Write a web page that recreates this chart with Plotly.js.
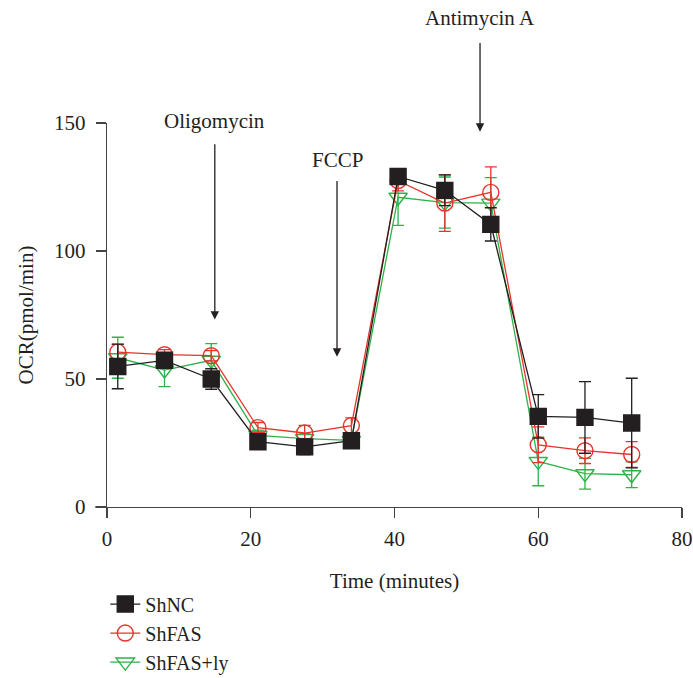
<!DOCTYPE html>
<html>
<head>
<meta charset="utf-8">
<script src="https://cdn.plot.ly/plotly-3.0.1.min.js"></script>
<style>html,body{margin:0;padding:0;background:#fff;}#chart{width:693px;height:678px;}</style>
</head>
<body>
<div id="chart"></div>
<script>
var times = [1.5, 8.0, 14.5, 21.0, 27.5, 34.0, 40.5, 47.0, 53.4, 60.0, 66.5, 73.0];
var shnc = [54.9, 57.3, 50.0, 25.5, 23.5, 25.9, 129.1, 123.7, 110.4, 35.4, 35.0, 32.8];
var shncErr = [8.7, 2.0, 4.0, 2.0, 3.0, 3.0, 3.0, 6.0, 6.5, 8.5, 14.0, 17.5];
var shfas = [60.5, 59.5, 59.1, 31.0, 28.9, 31.8, 127.5, 118.7, 122.9, 24.3, 22.0, 20.5];
var shfasErr = [3.0, 2.0, 2.0, 2.0, 3.0, 3.0, 4.0, 11.0, 10.0, 7.0, 5.0, 5.0];
var shfasly = [58.3, 53.5, 57.3, 28.0, 26.7, 26.0, 121.0, 118.9, 118.7, 17.8, 13.0, 12.6];
var shfaslyErr = [8.0, 6.5, 6.5, 2.0, 2.0, 3.0, 11.0, 10.0, 10.0, 9.5, 6.0, 5.0];
var seriesNames = ["ShNC", "ShFAS", "ShFAS+ly"];
var xTicks = [0, 20, 40, 60, 80];
var yTicks = [0, 50, 100, 150];

var black = "#231f20", red = "#e8332c", green = "#2fb24a";
var font = "Liberation Serif, Times New Roman, serif";

function tr(name, y, err, color, symbol, size) {
  return {
    x: times, y: y, name: name, type: "scatter", mode: "lines+markers",
    line: {color: color, width: 1.3},
    marker: {symbol: symbol, size: size, color: color, line: {color: color, width: 1.4}},
    error_y: {type: "data", array: err, visible: true, color: color, thickness: 1.3, width: 6},
    cliponaxis: false
  };
}

var data = [
  tr(seriesNames[2], shfasly, shfaslyErr, green, "triangle-down-open", 16),
  tr(seriesNames[1], shfas, shfasErr, red, "circle-open", 16),
  tr(seriesNames[0], shnc, shncErr, black, "square", 16)
];

// text positions are given in paper units (y), arrows in data units
var arrows = [
  {text: "Oligomycin", x: 15, textY: 1.005, head: 73.2, tail: 142.3},
  {text: "FCCP", x: 32, textY: 0.904, head: 58.7, tail: 127.9},
  {text: "Antimycin A", x: 51.9, textY: 1.274, head: 146.6, tail: 181.8}
];
var annotations = [];
arrows.forEach(function(a){
  annotations.push({x: a.x, y: a.textY, xref: "x", yref: "paper", text: a.text, showarrow: false,
    yanchor: "middle", font: {family: font, size: 21, color: black}});
  annotations.push({x: a.x, y: a.head, xref: "x", yref: "y", ax: a.x, ay: a.tail, axref: "x", ayref: "y",
    text: "", showarrow: true, arrowhead: 2, arrowsize: 1.3, arrowwidth: 1.3, arrowcolor: black});
});

var layout = {
  width: 693, height: 678,
  margin: {l: 107, r: 11, t: 123, b: 171, autoexpand: false},
  paper_bgcolor: "#fff", plot_bgcolor: "#fff",
  font: {family: font, size: 20, color: black},
  showlegend: true,
  legend: {x: -0.003, y: -0.202, xanchor: "left", yanchor: "top", traceorder: "reversed",
    font: {family: font, size: 20, color: black}, bgcolor: "rgba(0,0,0,0)", tracegroupgap: 0},
  xaxis: {range: [0, 80], tickvals: xTicks, ticktext: xTicks.map(String), showgrid: false, zeroline: false,
    showline: true, linecolor: "#444", linewidth: 1.3, ticks: "outside", ticklen: 10, tickwidth: 1.3, tickcolor: "#444",
    ticklabelstandoff: 2,
    tickfont: {family: font, size: 21, color: black},
    title: {text: "Time (minutes)", font: {family: font, size: 21, color: black}, standoff: 23}},
  yaxis: {range: [0, 150], tickvals: yTicks, ticktext: yTicks.map(String), showgrid: false, zeroline: false,
    showline: true, linecolor: "#444", linewidth: 1.3, ticks: "outside", ticklen: 10, tickwidth: 1.3, tickcolor: "#444",
    ticklabelstandoff: 6,
    tickfont: {family: font, size: 21, color: black},
    title: {text: "OCR(pmol/min)", font: {family: font, size: 21, color: black}, standoff: 14}},
  annotations: annotations,
  shapes: [
    {type: "line", xref: "paper", yref: "paper", x0: -0.021, x1: 0, y0: 0, y1: 0, line: {color: "#444", width: 1.3}},
    {type: "line", xref: "paper", yref: "paper", x0: 0, x1: 0, y0: -0.016, y1: 0, line: {color: "#444", width: 1.3}}
  ]
};

Plotly.newPlot("chart", data, layout, {displayModeBar: false, staticPlot: true});
</script>
</body>
</html>
